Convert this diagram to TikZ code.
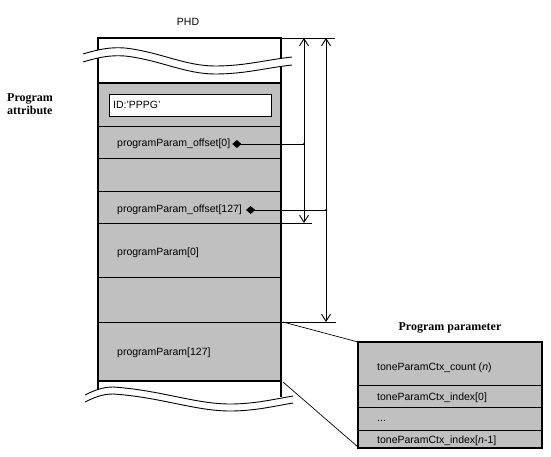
\documentclass[tikz,border=0pt]{standalone}
\usepackage{fontspec}
\setmainfont{Liberation Serif}
\setsansfont{Liberation Sans}
\usetikzlibrary{arrows.meta}
\definecolor{pgray}{HTML}{C0C0C0}
\begin{document}
\begin{tikzpicture}[x=1pt,y=-1pt,
  lbl/.style={font=\sffamily\fontsize{10.5}{12}\selectfont, anchor=west, inner sep=0pt},
  ttl/.style={font=\bfseries\fontsize{12}{13}\selectfont, inner sep=0pt},
  thinln/.style={line width=0.9pt},
  thickln/.style={line width=2pt},
  dimarrow/.style={line width=0.9pt, {Straight Barb[length=7pt,width=9pt]}-{Straight Barb[length=7pt,width=9pt]}},
  ptr/.style={line width=0.9pt, {Diamond[length=9pt,width=8pt]}-},
  junction/.style={circle, fill=black, inner sep=0pt, minimum size=2.5pt},
]
\useasboundingbox (0,0) rectangle (551,457);
\fill[white] (0,0) rectangle (551,457);

% ---- PHD column ----
\fill[pgray] (98,83) rectangle (281,381);
\foreach \y in {126,158,191,223,277,322} \draw[thinln] (98,\y) -- (281,\y);
\draw[thinln,fill=white] (109,94) rectangle (271,116);
\draw[thickln] (98,38) -- (98,389);
\draw[thickln] (281,38) -- (281,397);
\draw[thickln] (97,38) -- (282,38);
\draw[thickln] (97,83) -- (282,83);
\draw[thickln] (97,381) -- (282,381);

% top break
\fill[white] (83,54) .. controls (100,49) and (110,47) .. (125,48)
  .. controls (160,52) and (185,66) .. (215,66)
  .. controls (245,66) and (265,60) .. (292,57)
  -- (292,65) .. controls (265,68) and (245,74) .. (215,74)
  .. controls (185,74) and (160,60) .. (125,56)
  .. controls (110,55) and (100,57) .. (83,62) -- cycle;
\draw[thinln] (83,54) .. controls (100,49) and (110,47) .. (125,48)
  .. controls (160,52) and (185,66) .. (215,66)
  .. controls (245,66) and (265,60) .. (292,57);
\draw[thinln] (83,62) .. controls (100,57) and (110,55) .. (125,56)
  .. controls (160,60) and (185,74) .. (215,74)
  .. controls (245,74) and (265,68) .. (292,65);

% bottom break
\draw[thinln] (85,395) .. controls (95,390) and (103,387) .. (113,387)
  .. controls (160,390) and (195,404) .. (230,404)
  .. controls (255,404) and (275,399) .. (293,396);
\draw[thinln] (85,402) .. controls (95,397) and (103,394) .. (113,394)
  .. controls (160,397) and (195,411) .. (230,411)
  .. controls (255,411) and (275,406) .. (293,403);

% ---- labels ----
\node[font=\sffamily\fontsize{10.5}{12}\selectfont, inner sep=0pt] (phd) at (188,22) {PHD};
\node[ttl, anchor=west, align=left] (pattr) at (7,104) {Program\\attribute};
\node[lbl] (id) at (113,105) {ID:'PPPG'};
\node[lbl] (off0) at (117,144) {programParam\_offset[0]};
\node[lbl] (off127) at (117,210) {programParam\_offset[127]};
\node[lbl] (pp0) at (117,253) {programParam[0]};
\node[lbl] (pp127) at (117,353) {programParam[127]};

% ---- dimension lines ----
\coordinate (topR) at (281,38);
\coordinate (topE) at (335,38);
\coordinate (midR) at (281,223);
\coordinate (midE) at (312,223);
\coordinate (botR) at (281,322);
\coordinate (botE) at (336,322);
\draw[thinln] (topR) -- (topE);
\draw[thinln] (midR) -- (midE);
\draw[thinln] (botR) -- (botE);
\coordinate (aTop) at (304,38);
\coordinate (aBot) at (304,223);
\coordinate (bTop) at (326,38);
\coordinate (bBot) at (326,322);
\draw[dimarrow] (aTop) -- (aBot);
\draw[dimarrow] (bTop) -- (bBot);
\node[junction] (j0) at (304,144) {};
\node[junction] (j1) at (326,210) {};
\draw[ptr] ([xshift=2pt]off0.east) -- (j0.center);
\draw[ptr] ([xshift=4pt]off127.east) -- (j1.center);

% ---- Program parameter box ----
\node[ttl] (ptitle) at (450,328) {Program parameter};
\fill[pgray] (358,342) rectangle (542,448);
\foreach \y in {385,407,430} \draw[thinln] (358,\y) -- (542,\y);
\draw[thickln] (358,342) rectangle (542,448);
\node[lbl] (cnt) at (377,368) {toneParamCtx\_count (\textit{n})};
\node[lbl] (idx0) at (377,398) {toneParamCtx\_index[0]};
\node[lbl] (dots) at (377,421) {...};
\node[lbl] (idxn) at (377,441) {toneParamCtx\_index[\textit{n}-1]};

% zoom connectors
\coordinate (zA) at (283,322);
\coordinate (zB) at (283,382);
\coordinate (bxA) at (358,342);
\coordinate (bxB) at (358,447);
\draw[line width=0.7pt] (zA) -- (bxA);
\draw[line width=0.7pt] (zB) -- (bxB);
\end{tikzpicture}
\end{document}
